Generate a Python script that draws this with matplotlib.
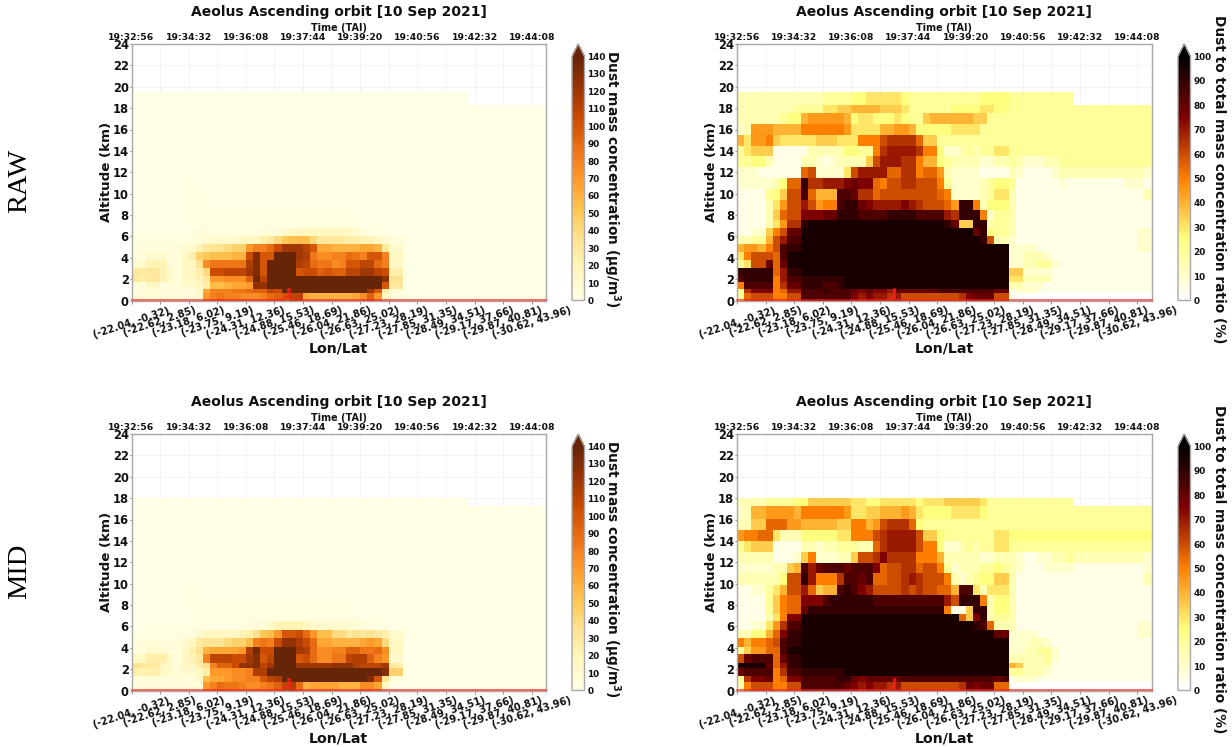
import numpy as np
import matplotlib
matplotlib.use("Agg")
import matplotlib.pyplot as plt

NCOL = 58
NAN = 11 * '.'
Z20 = '0' * 20

# Row edges (km), bottom to top
EDGES_RAW = [0, .7, 1.1, 1.7, 2.25, 3.0, 3.75, 4.5, 5.25, 6.0, 6.8, 7.55, 8.5, 9.45, 10.45, 11.5, 12.5, 13.5, 14.5, 15.5, 16.55, 17.5, 18.3, 19.5]
EDGES_MID = [0, .75, 1.4, 2.1, 2.6, 3.4, 4.1, 4.9, 5.7, 6.47, 7.2, 7.95, 8.9, 9.9, 10.95, 11.95, 13, 14, 15, 16.05, 17.25, 18]

# Each row: one base-36 digit per profile, times 5 = value ('z' = 2.5); rows listed top to bottom
RATIO_RAW = [
 '3'*12+'4444'+'55666665'+'4'*10+'5555'+'4'*9+NAN,
 '333333334444'+'66'+'77888877'+'76'+'4444445555'+'6655'+'4'*9+'4'*11,
 '3333334'+'55'+'8999998'+'566'+'55565'+'44'+'7888888'+'77'+'4'*12+'4'*11,
 '23'+'9998888'+'aaaaaa'+'9'+'6666'+'88998'+'555556666'+'4'*13+'4'*11,
 '86'+'99a'+'7666'+'66777'+'666'+'aaa'+'cdddd'+'b'+'77'+'4'*19+'4'*11,
 '46777'+'11111'+'33333'+'55'+'44'+'a'+'deee'+'ed'+'aa'+'5'+'22'+'34344'+'66'+'4'*9+'4'*11,
 '44553'+'1111'+'33'+'2123333'+'7'+'c'+'eee'+'dd'+'a'+'88'+'54'+'3333'+'22'+'33'+'4'+'32223344'+'4'*11,
 '22211'+'1111'+'bc'+'2222'+'6'+'c'+'ee'+'ee'+'bb'+'dd'+'a'+'bb'+'9'+'3'+'2222'+'1111'+'3'+'21111'+'233'+'3'*10+'2',
 '222223'+'5'+'bb'+'i'+'dd'+'eee'+'fgff'+'ba'+'cc'+'dd'+'ccc'+'a'+'4'+'2222'+'3455'+'4'+'1111112'+'111111112221',
 '1111'+'457'+'cc'+'h'+'b'+'888'+'hh'+'g'+'dd'+'bcc'+'cccc'+'cc'+'ba'+'2222'+'34'+'66'+'3'+'1'*18+'3',
 '1111'+'3'+'6'+'9'+'cc'+'e'+'c'+'9'+'aa'+'hii'+'gf'+'eeeefe'+'dcc'+'cb'+'9'+'ii'+'a'+'3'+'5'+'55'+'3'+'1'*19,
 '1111'+'3'+'7'+'b'+'cc'+'fff'+'gg'+'iii'+'hhhhiiiihhhh'+'ed'+'ii'+'i'+'a'+'2'+'44'+'3'+'1'*19,
 '1111'+'3'+'6'+'9'+'dd'+'i'+'j'*19+'i'+'g'+'77'+'ii'+'3'+'44'+'3'+'1'*19,
 '1122'+'7'+'a'+'c'+'gg'+'j'*24+'g'+'i'+'5'+'44'+'3'+'1'*17+'22',
 '3344'+'8'+'c'+'e'+'hh'+'j'*25+'i'+'c'+'33'+'2'+'1'*17+'22',
 '8998'+'a'+'c'+'h'+'ii'+'j'*29+'2'+'222111'+'1'*11+'22',
 '6accc'+'b'+'h'+'jj'+'j'*29+'2'+'2333'+'2'+'1'*14,
 '46ccg'+'b'+'g'+'jj'+'j'*29+'2'+'233442'+'1'*13,
 'iiiii'+'b'+'e'+'ii'+'j'*29+'7'+'7'+'2222'+'1'*14,
 'hiiii'+'a'+'e'+'hh'+'iiiiii'+'j'*23+'6'+'6'+'3333'+'1'*14,
 'ahhhh'+'a'+'d'+'gg'+'iiihhi'+'j'*23+'3'+'3'+'222'+'1'*15,
 '4dfff'+'a'+'b'+'ee'+'hhhihhh'+'gfgf'+'feg'+'ggggghhhhhhhh'+'gg'+'1'+'222'+'1'*16,
 '4bccc'+'aa'+'cc'+'h'*7+'fe'+'fe'+'ede'+'ccccccccd'+'f'+'ggg'+'cc'+'1'+'0'*19,
]

RATIO_MID = [
 '333344445'+'5'+'777777'+'6655666665'+'666777776'+'4'*12+NAN,
 '23'+'8899998'+'aaaaaa'+'9'+'6677'+'88898'+'6'+'5555'+'6666'+'5'+'4'*12+'4'*11,
 '33'+'77'+'bbb'+'99'+'88888'+'77'+'aa'+'89'+'cdddb'+'5'+'4'*21+'4'*11,
 '9aabb'+'6'+'333'+'55'+'55566'+'aaa'+'c'+'deeee'+'c'+'77'+'5'+'444444'+'4'+'66'+'5'*9+'5'*11,
 '46777'+'1111'+'33233'+'444'+'33'+'b'+'deee'+'e'+'c'+'aa'+'5'+'22'+'34344'+'66'+'4'*9+'4'*11,
 '33333'+'1112'+'7'+'a'+'22233'+'7'+'cc'+'d'+'f'+'dddd'+'a'+'aa'+'8'+'3'+'3333'+'22'+'33'+'3'+'21122334'+'3'*10+'2',
 '22222'+'33'+'78'+'h'+'e'+'g'+'hhh'+'g'+'hhh'+'f'+'bcc'+'dd'+'b'+'cc'+'a'+'4'+'2333'+'4454'+'3'+'21112222'+'1'*10+'2',
 '33333'+'3'+'5'+'cc'+'i'+'e'+'aaa'+'d'+'hh'+'g'+'h'+'bb'+'cc'+'de'+'d'+'cc'+'c'+'a'+'3'+'2'+'3'+'4'+'55'+'77'+'3'+'1'*18+'3',
 '1122'+'4'+'6'+'8'+'cc'+'e'+'b'+'7'+'88'+'h'+'ih'+'f'+'e'+'ccccdc'+'dcc'+'b'+'b'+'8'+'hh'+'6'+'3'+'6'+'66'+'3'+'1'*19,
 '1111'+'4'+'7'+'a'+'bb'+'fff'+'hiiiiii'+'h'*10+'e'+'c'+'iii'+'a'+'3'+'55'+'3'+'1'*19,
 '1111'+'4'+'7'+'a'+'bb'+'g'+'i'*19+'a'+'11'+'7'+'ii'+'3'+'55'+'3'+'1'*19,
 '1111'+'3'+'6'+'a'+'ff'+'j'*22+'b'+'7'+'f'+'i'+'3'+'44'+'3'+'1'*19,
 '1122'+'6'+'9'+'d'+'hh'+'j'*24+'i'+'h'+'b'+'33'+'3'+'1'*17+'22',
 '3355'+'8'+'b'+'f'+'ii'+'j'*27+'gg'+'2'+'222111'+'1'*11+'22',
 'a8aab'+'c'+'h'+'ii'+'j'*29+'2'+'223321'+'1'*13,
 '4799b'+'b'+'h'+'jj'+'j'*29+'2'+'233442'+'1'*13,
 'cghhh'+'b'+'g'+'ii'+'j'*29+'3'+'333342'+'1'*13,
 'jjjjg'+'b'+'e'+'ii'+'j'*29+'8'+'7'+'3333'+'1'*14,
 'ghhhh'+'a'+'d'+'hh'+'iiiiii'+'j'*23+'4'+'43332'+'1'*14,
 '4dffg'+'a'+'b'+'ff'+'hhhhhii'+'gfggggg'+'h'*13+'gh'+'1'+'222'+'1'*16,
 '3accc'+'aa'+'cc'+'hhhhhhg'+'fefe'+'ede'+'ccccccccd'+'g'+'fgg'+'bb'+'0'+'0'*19,
]

Z = '0'*NCOL
MASS_RAW = [
 '0'*47+NAN, Z, Z, Z, Z, Z, Z, Z,
 '0'*7+'z'*2+'0'*49,
 '0'*7+'z'*3+'0'*48,
 '0'*7+'z'*4+'0'*47,
 '0'*7+'z'*24+'0'*27,
 '0'*8+'z'*24+'0'*26,
 '0000000'+'0'+'z1'+'1'+'zzzz'+'z'+'zz'+'11'+'12'+'33'+'33'+'3'+'3333'+'2'+'1'+'z'+'z'+'z'+'0'*22,
 'zzzzzzz'+'z11'+'2'+'22223'+'335'+'68'+'abbb'+'8'+'6666'+'554'+'4'+'32'+'11'+Z20,
 '1111111'+'22'+'4'+'6'+'778'+'99'+'egg'+'i'+'l'+'ooo'+'m'+'k'+'dd'+'c'+'ccc'+'dd'+'c'+'6'+'22'+Z20,
 '11222'+'11'+'3'+'5'+'9'+'abbbcc'+'l'+'q'+'k'+'k'+'sss'+'o'+'n'+'h'+'ff'+'gg'+'i'+'h'+'g'+'kk'+'g'+'33'+Z20,
 '22'+'444'+'11'+'33'+'7'+'f'+'hhhhh'+'n'+'q'+'k'+'ssss'+'nm'+'i'+'hh'+'fg'+'kk'+'mm'+'i'+'g'+'33'+Z20,
 '6666'+'4'+'21'+'33'+'5'+'8'+'l'+'lmmm'+'oq'+'k'+'ssss'+'kll'+'jkjj'+'mm'+'oo'+'m'+'l'+'55'+Z20,
 '6566'+'4'+'21'+'33'+'4'+'6'+'eefff'+'j'+'r'+'m'+'s'*16+'p'+'77'+Z20,
 '1133'+'1'+'11'+'22'+'3'+'5'+'bbcdd'+'e'+'pp'+'s'*16+'k'+'66'+Z20,
 '11111'+'111'+'1'+'2'+'d'+'ggghh'+'ijj'+'ml'+'s'*12+'o'+'k'+'5'+'11'+Z20,
 '11111'+'111'+'1'+'2'+'e'+'ghggf'+'ffg'+'ij'+'kmm'+'dccccccd'+'fj'+'e'+'3'+'11'+Z20,
]

MASS_MID = [
 '0'*47+NAN, Z, Z, Z, Z, Z, Z, Z,
 '0'*7+'z'*2+'0'*49,
 '0'*7+'z'*3+'0'*48,
 '0'*8+'z'*23+'0'*27,
 '0'*8+'z'*24+'0'*26,
 '0'*8+'zzz'+'zzzzz11'+'12'+'44443'+'22'+'22221'+'1zzz'+'0'*22,
 'zzzzzzz'+'z12'+'333334'+'57'+'a'+'b'+'e'+'kk'+'l'+'i'+'e'+'bb'+'88'+'6767'+'65'+'22'+Z20,
 '1111111'+'23'+'6'+'777899'+'b'+'g'+'h'+'g'+'l'+'pp'+'n'+'l'+'i'+'dd'+'cc'+'cc'+'de'+'d'+'8'+'33'+Z20,
 '11222'+'11'+'3'+'5'+'7'+'cdddde'+'n'+'r'+'l'+'l'+'sss'+'o'+'n'+'i'+'ff'+'gg'+'jj'+'h'+'hi'+'f'+'33'+Z20,
 '33555'+'21'+'3'+'4'+'6'+'g'+'mmm'+'ll'+'o'+'q'+'k'+'m'+'sss'+'k'+'l'+'i'+'ff'+'hh'+'mn'+'n'+'j'+'g'+'e'+'22'+Z20,
 '7666'+'3'+'21'+'33'+'5'+'7'+'g'+'jj'+'l'+'pp'+'q'+'m'+'o'+'sss'+'o'+'oooo'+'ppp'+'n'+'mm'+'mo'+'65'+Z20,
 '5455'+'3'+'21'+'22'+'3'+'5'+'eeeff'+'g'+'nn'+'s'*16+'q'+'99'+Z20,
 '111111111'+'3'+'b'+'ddeff'+'ggk'+'mn'+'s'*12+'q'+'k'+'7'+'11'+Z20,
 '111111111'+'1'+'e'+'gihhg'+'ffg'+'hj'+'m'+'n'+'i'+'cddddccc'+'ff'+'d'+'3'+'00'+Z20,
]

TOP_TIMES = ['19:32:56', '19:34:32', '19:36:08', '19:37:44', '19:39:20', '19:40:56', '19:42:32', '19:44:08']
LONLAT = ['(-22.04, -0.32)', '(-22.62, 2.85)', '(-23.18, 6.02)', '(-23.75, 9.19)', '(-24.31, 12.36)',
          '(-24.88, 15.53)', '(-25.46, 18.69)', '(-26.04, 21.86)', '(-26.63, 25.02)', '(-27.23, 28.19)',
          '(-27.85, 31.35)', '(-28.49, 34.51)', '(-29.17, 37.66)', '(-29.87, 40.81)', '(-30.62, 43.96)']
TERRAIN_X = [0, 21.5, 21.5, 21.9, 21.9, 22.15, 22.15, 58]
TERRAIN_Y = [.05, .05, .3, .3, 1.05, 1.05, .05, .05]

MASS_LABEL = 'Dust mass concentration (µg/m$^{\\mathbf{3}}$)'
RATIO_LABEL = 'Dust to total mass concentration ratio (%)'

W, H = 1232, 747
INK = '#111111'
GRAY = '#a8a8a8'


def decode(rows):
    for r in rows:
        assert len(r) == NCOL, (len(r), r)
    def val(c):
        if c == '.':
            return np.nan
        if c == 'z':
            return 2.5
        return int(c, 36) * 5.0
    return np.array([[val(c) for c in r] for r in rows[::-1]])


def rect(x0, x1, y0, y1):
    return [x0 / W, 1 - y1 / H, (x1 - x0) / W, (y1 - y0) / H]


def panel(fig, rows, edges, x0, ytop, cmap, vmax, cstep, clabel, cx, labelx, labelsize):
    ax = fig.add_axes(rect(x0, x0 + 414.5, ytop, ytop + 256.5))
    data = decode(rows)
    assert data.shape[0] == len(edges) - 1
    xe = np.arange(NCOL + 1)
    m = ax.pcolormesh(xe, edges, data, cmap=cmap, vmin=0, vmax=vmax, zorder=2, linewidth=0, rasterized=True)
    ax.plot(TERRAIN_X, TERRAIN_Y, color='#ff2020', lw=1.1, alpha=.85, zorder=4, clip_on=False, solid_joinstyle='miter')
    ax.set_xlim(0, NCOL)
    ax.set_ylim(0, 24)
    ax.set_yticks(np.arange(0, 25, 2))
    ax.set_xticks(np.arange(0, 57, 4))
    ax.set_xticklabels(LONLAT, rotation=18, ha='center', fontsize=7.1, fontweight='bold', color=INK)
    ax.tick_params(axis='x', length=2, width=.6, color='#777777', pad=1.5)
    ax.tick_params(axis='y', length=1.5, width=.6, color='#777777', pad=.5, labelsize=8.3)
    for t in ax.get_yticklabels():
        t.set_fontweight('bold')
        t.set_color(INK)
    ax.grid(True, color='#eeeeee', lw=.5, zorder=1)
    ax.set_axisbelow(True)
    ax.set_xlabel('Lon/Lat', fontsize=10.2, fontweight='bold', color=INK)
    ax.xaxis.set_label_coords(.5, -41 / 256.5)
    ax.set_ylabel('Altitude (km)', fontsize=9.6, fontweight='bold', color=INK)
    ax.yaxis.set_label_coords(-18.5 / 414.5, .5)
    ax.set_title('Aeolus Ascending orbit [10 Sep 2021]', fontsize=10, fontweight='bold', pad=20, color=INK)
    for s in ax.spines.values():
        s.set_color(GRAY)
        s.set_linewidth(1)
    top = ax.twiny()
    top.set_xlim(0, NCOL)
    top.set_xticks(np.arange(0, 57, 8))
    top.set_xticklabels(TOP_TIMES, fontsize=6.7, fontweight='bold', color=INK)
    top.tick_params(axis='x', length=0, pad=1.5)
    top.set_xlabel('Time (TAI)', fontsize=6.9, fontweight='bold', labelpad=1.5, color=INK)
    for s in top.spines.values():
        s.set_visible(False)
    cax = fig.add_axes(rect(cx, cx + 12.5, ytop, ytop + 256.5))
    cb = fig.colorbar(m, cax=cax, extend='max', extendfrac=12.5 / 244,
                      ticks=np.arange(0, vmax + 1, cstep))
    cb.outline.set_edgecolor(GRAY)
    cb.outline.set_linewidth(1)
    cax.tick_params(length=0, pad=2, labelsize=6.4)
    for t in cax.get_yticklabels():
        t.set_fontweight('bold')
        t.set_color(INK)
    fig.text(labelx / W, 1 - (ytop + 135) / H, clabel, rotation=270, fontsize=labelsize, fontweight='bold',
             ha='center', va='center', color=INK)
    return ax


fig = plt.figure(figsize=(W / 100, H / 100), dpi=100, facecolor='white')
panel(fig, MASS_RAW, EDGES_RAW, 131.5, 44, 'YlOrBr', 140, 10, MASS_LABEL, 572, 612, 9.95)
panel(fig, RATIO_RAW, EDGES_RAW, 737, 44, 'afmhot_r', 100, 10, RATIO_LABEL, 1178, 1219, 9.87)
panel(fig, MASS_MID, EDGES_MID, 131.5, 434, 'YlOrBr', 140, 10, MASS_LABEL, 572, 612, 9.95)
panel(fig, RATIO_MID, EDGES_MID, 737, 434, 'afmhot_r', 100, 10, RATIO_LABEL, 1178, 1219, 9.87)

for name, yc in (('RAW', 181), ('MID', 571)):
    fig.text(20 / W, 1 - yc / H, name, rotation=90, fontsize=20.5, family='Liberation Serif',
             ha='center', va='center', color='black')

fig.savefig('out.png', dpi=100)
